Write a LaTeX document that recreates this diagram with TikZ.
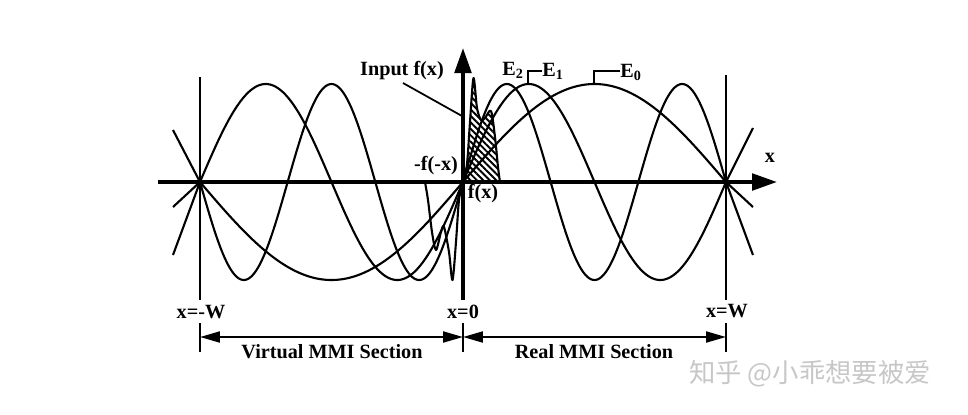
\documentclass[tikz,border=0pt]{standalone}
\usepackage{fontspec}
\setmainfont{Liberation Serif}
\newfontfamily\cjkfont{Noto Sans CJK SC}
\usetikzlibrary{arrows.meta,patterns.meta,positioning}

\begin{document}
\begin{tikzpicture}[x=0.02cm,y=0.02cm]
  \tikzstyle{lbl} = [font=\bfseries\fontsize{11.5}{13}\selectfont,inner sep=0pt]
  \tikzstyle{mode} = [line width=1.2pt,line join=round]
  \tikzstyle{thin} = [line width=1pt]
  \tikzstyle{wall} = [line width=1.4pt]
  \tikzstyle{axis} = [line width=2.2pt,-{Triangle[length=0.5cm,width=0.33cm]}]
  \tikzstyle{span} = [line width=1.2pt,{Triangle[length=0.4cm,width=0.22cm]}-{Triangle[length=0.4cm,width=0.22cm]}]

  \useasboundingbox (-463,-232) rectangle (505,182);

  \coordinate (wl) at (-263,0);
  \coordinate (o) at (0,0);
  \coordinate (wr) at (263,0);

  % walls and axes
  \draw[wall] (-263,105) -- (-263,-118);
  \draw[wall] (263,107) -- (263,-118);
  \draw[axis] (-305,0) -- (314,0);
  \draw[axis] (0,-118) -- (0,134);

  % modes E0, E1, E2 over virtual + real section
  \foreach \m in {1,2,3}
    \draw[mode] plot[domain=-263:263,samples=301,smooth] (\x,{98*sin(180*\m*(\x/263))});

  % stubs beyond the walls
  \draw[mode] (wr) -- ++(27,54);
  \draw[mode] (wr) -- ++(27,-25);
  \draw[mode] (wr) -- ++(27,-73);
  \draw[mode] (wl) -- ++(-27,52);
  \draw[mode] (wl) -- ++(-27,-25);
  \draw[mode] (wl) -- ++(-27,-73);

  % input and its mirror
  \draw[mode,pattern={Lines[angle=-45,distance=2.6pt,line width=1.1pt]}]
    plot[smooth,tension=0.5] coordinates {(0,0) (4,18) (7,60) (10.5,104) (14,74)
      (18,62) (22,64) (28,71) (32,45) (35,15) (37,0)} -- cycle;
  \draw[mode] plot[smooth,tension=0.5] coordinates {(0,0) (-4,-18) (-7,-60)
    (-10.5,-98) (-14,-70) (-19,-45) (-22,-50) (-27,-68) (-31,-50) (-35,-18) (-38,0)};

  % labels
  \node[lbl,anchor=base,name=inlbl] at (-61,107) {Input f(x)};
  \coordinate (intip) at (-1,66);
  \draw[thin] (-60,99) -- (intip);
  \node[lbl,anchor=base,name=mflbl] at (-27,12) {-f(-x)};
  \node[lbl,anchor=base,name=flbl] at (20,-16) {f(x)};
  \node[lbl,anchor=base,name=xlbl] at (307,20) {x};

  \node[lbl,anchor=base west,name=e2] at (39,107) {E\textsubscript{2}};
  \node[lbl,anchor=base west,name=e1] at (79,106) {E\textsubscript{1}};
  \node[lbl,anchor=base west,name=e0] at (157,105) {E\textsubscript{0}};
  \draw[thin] (65,99) -- (65,111) -- (e1.west |- 0,111);
  \draw[thin] (131,99) -- (131,111) -- (e0.west |- 0,111);

  % section markers
  \foreach \p/\n in {-263/l,0/o,263/r}
    \draw[thin] (\p,-141) coordinate (t\n) -- (\p,-170);
  \node[lbl,anchor=base,name=lwl] at (-262,-136) {x=-W};
  \node[lbl,anchor=base,name=lo] at (0,-136) {x=0};
  \node[lbl,anchor=base,name=lwr] at (264,-135) {x=W};

  \coordinate (sl) at (-263,-155);
  \coordinate (so) at (0,-155);
  \coordinate (sr) at (263,-155);
  \draw[span] (sl) -- (so);
  \draw[span] (so) -- (sr);
  \node[lbl,anchor=base,name=virt] at (-131,-176) {Virtual MMI Section};
  \node[lbl,anchor=base,name=real] at (131,-176) {Real MMI Section};

  \node[anchor=base,text=black!22,font=\cjkfont\fontsize{15}{15}\selectfont,name=mark]
    at (347,-200) {知乎 @小乖想要被爱};
\end{tikzpicture}
\end{document}
